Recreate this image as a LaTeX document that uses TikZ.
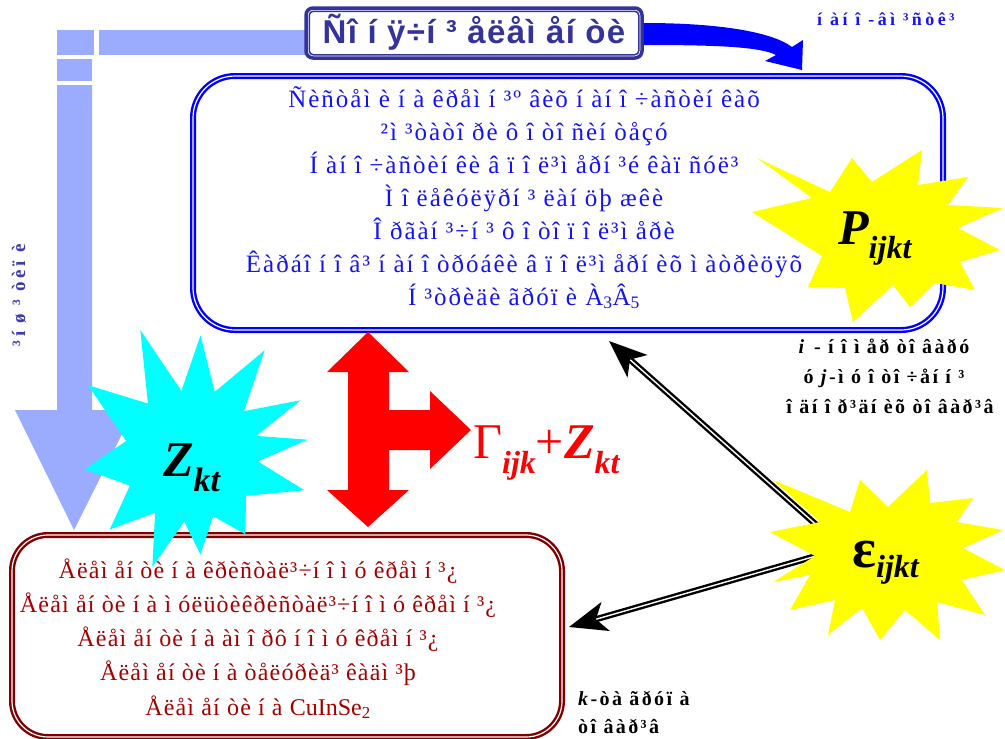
\documentclass[tikz,border=0pt]{standalone}
\usepackage{fontspec}
\setmainfont{Liberation Serif}
\newfontfamily\spacedserif[LetterSpace=8]{Liberation Serif}
\newfontfamily\spacedred[LetterSpace=5]{Liberation Serif}
\newfontfamily\spacedlbl[LetterSpace=12]{Liberation Serif}
\newfontfamily\spacedwide[LetterSpace=19]{Liberation Serif}
\newfontfamily\titlesans[LetterSpace=4]{Liberation Sans}
\usetikzlibrary{arrows.meta,calc}
\definecolor{ltblue}{RGB}{155,172,255}
\definecolor{ttlblue}{RGB}{51,51,153}
\definecolor{boxred}{RGB}{128,0,0}
\definecolor{txtred}{RGB}{165,0,0}
\definecolor{vtblue}{RGB}{60,60,170}
\definecolor{txtblue}{RGB}{20,20,240}
\definecolor{starcyan}{RGB}{0,255,255}
\definecolor{staryellow}{RGB}{255,255,0}
\definecolor{shapered}{RGB}{255,0,0}
\definecolor{pureblue}{RGB}{0,0,255}
\newcommand\lowsub[3]{\raisebox{-#1pt}{\fontsize{#2}{#2}\selectfont\bfseries\itshape #3}}
\begin{document}
\begin{tikzpicture}[x=1pt,y=-1pt,
  bluetxt/.style={font=\spacedserif\fontsize{25}{25}\selectfont, text=txtblue, anchor=base, inner sep=0},
  redtxt/.style={font=\spacedred\fontsize{24}{24}\selectfont, text=txtred, anchor=base, inner sep=0},
  lbl/.style={font=\spacedlbl\bfseries\fontsize{20}{20}\selectfont, text=black, anchor=base, inner sep=0},
  blkarrow/.style={draw=black, line width=2.4pt, double=white, double distance=1.4pt, -{Stealth[length=38pt,width=30pt,inset=10pt]}},
  roundbox/.style={double=white, double distance=1.2pt, line width=2.4pt, inner sep=0}]
\useasboundingbox (0,0) rectangle (1005,739);
\fill[white] (0,0) rectangle (1005,739);

% light blue L-shaped arrow (made of pieces with thin gaps)
\fill[ltblue] (306,30) -- (99,30) -- (99,55) -- (306,55) -- cycle;
\fill[ltblue] (57,30) rectangle (94,55);
\fill[ltblue] (57,59) rectangle (92,81);
\fill[ltblue] (57,85) -- (57,410) -- (15,410) -- (74,530) -- (134,410) -- (92,410) -- (92,85) -- cycle;

% title box
\node[draw=ttlblue, line width=3.5pt, fill=white, rounded corners=7pt, minimum width=336pt, minimum height=50pt, inner sep=0] (title) at (474,33) {};
\draw[ttlblue, line width=1.5pt, rounded corners=4pt] ([shift={(5,5)}]title.north west) rectangle ([shift={(-5,-5)}]title.south east);
\node[font=\titlesans\bfseries\fontsize{33}{33}\selectfont, text=ttlblue, anchor=base, inner sep=0] (titletext) at (474,43) {Ñî í ÿ÷í ³ åëåì åí òè};

% blue curved arrow
\fill[pureblue] (title.east |- 0,23) .. controls (720,23) and (772,32) .. (792,47) -- (803,40) -- (802,70) -- (765,61) -- (776,55) .. controls (760,47) and (720,45) .. (title.east |- 0,45) -- cycle;
\node[font=\spacedwide\bfseries\fontsize{18}{18}\selectfont, text=txtblue, anchor=base west, inner sep=0] (nano) at (817,25) {í àí î -âì ³ñòê³};

% blue box
\node[draw=pureblue, roundbox, rounded corners=42pt, minimum width=750pt, minimum height=254pt] (bluebox) at (568,203) {};
\foreach \t [count=\i from 0] in {Ñèñòåì è í à êðåì í ³º âèõ í àí î ÷àñòèí êàõ,
  ²ì ³òàòî ðè ô î òî ñèí òåçó,
  Í àí î ÷àñòèí êè â ï î ë³ì åðí ³é êàï ñóë³,
  Ì î ëåêóëÿðí ³ ëàí öþ æêè,
  Î ðãàí ³÷í ³ ô î òî ï î ë³ì åðè,
  Êàðáî í î â³ í àí î òðóáêè â ï î ë³ì åðí èõ ì àòðèöÿõ,
  Í ³òðèäè ãðóï è À\textsubscript{3}Â\textsubscript{5}}
  \node[bluetxt] (bl\i) at (524,{107+33*\i}) {\t};

% bottom box
\node[draw=boxred, roundbox, rounded corners=36pt, minimum width=550pt, minimum height=202pt] (redbox) at (287,636) {};

% cyan star Z
\begin{scope}[shift={(192,458)}]
\fill[starcyan] (215:127) \foreach \a/\r in {231/70, 248/138, 261/68, 274/123, 289/70, 304/130, 318/70, 332/123, 341/68, 351/117, 363/66, 376/117, 395/66, 415/93, 430/62, 445/97, 457/64, 470/116, 484/66, 499/109, 516/68, 534/108, 554.5/68} { -- (\a:\r) } -- cycle;
\end{scope}
\node[anchor=base west, inner sep=0, font=\bfseries\itshape\fontsize{50}{50}\selectfont] (Z) at (163,476) {Z\lowsub{15}{34}{kt}};

\foreach \t [count=\i from 0] in {Åëåì åí òè í à êðèñòàë³÷í î ì ó êðåì í ³¿,
  Åëåì åí òè í à ì óëüòèêðèñòàë³÷í î ì ó êðåì í ³¿,
  Åëåì åí òè í à àì î ðô í î ì ó êðåì í ³¿,
  Åëåì åí òè í à òåëóðèä³ êàäì ³þ,
  Åëåì åí òè í à {\rmfamily CuInSe\textsubscript{2}}}
  \node[redtxt] (rl\i) at (258,{578+34.3*\i}) {\t};

% vertical label
\node[rotate=90, font=\spacedwide\bfseries\fontsize{19}{19}\selectfont, text=vtblue, inner sep=0] (vt) at (19,295) {³í ø ³ òèï è};

% red arrows shape
\fill[shapered] (368,332) -- (409,372) -- (389,372) -- (389,410) -- (430,410) -- (430,391) -- (471,430) -- (430,469) -- (430,450) -- (389,450) -- (389,490) -- (409,490) -- (368,527) -- (327,490) -- (348,490) -- (348,372) -- (327,372) -- cycle;
\node[anchor=base west, inner sep=0, text=shapered, font=\fontsize{50}{50}\selectfont] (gam) at (473,458) {Γ\lowsub{15}{32}{ijk}+\textbf{\textit{Z}}\lowsub{15}{32}{kt}};

% black arrows
\coordinate (sA) at (830,537);
\coordinate (sB) at (830,552);
\coordinate (tipA) at (609,341);
\coordinate (tipB) at (569,627);
\draw[blkarrow] (sA) -- (tipA);
\draw[blkarrow] (sB) -- (tipB);

% yellow star P
\fill[staryellow] (757,158) -- (830,192) -- (852,158) -- (872,182) -- (922,150) -- (918,185) -- (968,177) -- (948,205) -- (1003,208) -- (958,228) -- (1000,250) -- (960,262) -- (975,290) -- (935,283) -- (910,307) -- (893,285) -- (853,322) -- (845,288) -- (808,287) -- (822,256) -- (752,212) -- (812,198) -- cycle;
\node[anchor=base west, inner sep=0, font=\bfseries\itshape\fontsize{50}{50}\selectfont] (P) at (838,244) {P\lowsub{14}{32}{ijkt}};

% yellow star epsilon
\fill[staryellow] (773,480) -- (850,512) -- (860,480) -- (888,507) -- (927,470) -- (930,503) -- (973,498) -- (957,522) -- (1003,530) -- (963,548) -- (1005,570) -- (962,580) -- (985,615) -- (937,602) -- (940,640) -- (905,610) -- (880,640) -- (862,608) -- (828,635) -- (835,600) -- (790,610) -- (810,575) -- (773,582) -- (815,556) -- (770,532) -- (820,522) -- cycle;
\node[anchor=base west, inner sep=0, font=\bfseries\fontsize{56}{56}\selectfont] (E) at (852,567) {ε\lowsub{10}{32}{ijkt}};

% right labels
\node[lbl] (la1) at (884,353) {\textit{i} - í î ì åð òî âàðó};
\node[lbl] (la2) at (884,383) {ó \textit{j}-ì ó î òî ÷åí í ³};
\node[lbl] (la3) at (890,413) {î äí î ð³äí èõ òî âàð³â};
\node[lbl, anchor=base west] (k1) at (578,705) {\textit{k}-òà ãðóï à};
\node[lbl, anchor=base west] (k2) at (578,733) {òî âàð³â};
\end{tikzpicture}
\end{document}
